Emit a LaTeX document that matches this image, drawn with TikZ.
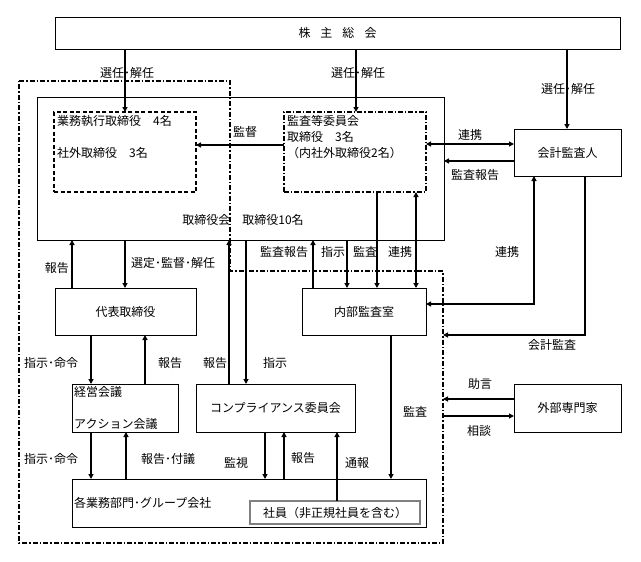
\documentclass[tikz,border=0pt]{standalone}
\usepackage{fontspec}
\setmainfont{Noto Sans CJK JP}
\usepackage{tikz}
\usetikzlibrary{arrows.meta}
\tikzset{
  orgBox/.style={draw, line width=0.8pt, inner sep=0pt, outer sep=0pt},
  execBox/.style={orgBox, line width=1.1pt, dash pattern=on 4pt off 2.5pt},
  auditBox/.style={orgBox, line width=1.1pt, dash pattern=on 5pt off 2pt on 1.2pt off 2pt},
  staffBox/.style={orgBox, draw=gray, line width=1.4pt},
  groupLine/.style={line width=1.3pt, dash pattern=on 5pt off 2pt on 1.5pt off 2pt},
  flowArrow/.style={line width=1.6pt, ->, >={Triangle[length=5pt,width=5pt]}},
  bothArrow/.style={flowArrow, <->},
  orgText/.style={inner sep=0pt}
}

\begin{document}
\begin{tikzpicture}[x=1pt, y=-1pt, font=\fontsize{12}{14}\selectfont]
  \useasboundingbox (0,0) rectangle (641,562);

  % boxes
  \node[orgBox, minimum width=565, minimum height=32] (gm) at (337.5,33) {株\hspace{10pt}主\hspace{10pt}総\hspace{10pt}会};
  \node[orgBox, minimum width=407, minimum height=143] (board) at (240.5,168.5) {};
  \node[execBox, minimum width=142, minimum height=80] (exec) at (125,152) {};
  \node[auditBox, minimum width=142, minimum height=80] (acom) at (355,152) {};
  \node[orgBox, minimum width=107, minimum height=47] (cpa) at (567.5,152.5) {会計監査人};
  \node[orgBox, minimum width=141, minimum height=47] (rep) at (125.5,311.5) {代表取締役};
  \node[orgBox, minimum width=124, minimum height=47] (ia) at (364,311.5) {内部監査室};
  \node[orgBox, minimum width=106, minimum height=48] (mtg) at (125,408) {};
  \node[orgBox, minimum width=159, minimum height=48] (comp) at (275.5,408) {コンプライアンス委員会};
  \node[orgBox, minimum width=107, minimum height=48] (ext) at (567.5,408) {外部専門家};
  \node[orgBox, minimum width=354, minimum height=48] (dept) at (249,503) {};
  \node[staffBox, minimum width=170, minimum height=23] (staff) at (335,512.5) {社員（非正規社員を含む）};

  % texts inside boxes
  \node[orgText, anchor=west] (execT1) at (57,121) {業務執行取締役　4名};
  \node[orgText, anchor=west] (execT2) at (57,153) {社外取締役　3名};
  \node[orgText, anchor=west] (acomT1) at (287,121) {監査等委員会};
  \node[orgText, anchor=west] (acomT2) at (287,137) {取締役　3名};
  \node[orgText, anchor=west] (acomT3) at (287,153) {（内社外取締役2名）};
  \node[orgText] (boardT) at (243,220) {取締役会　取締役10名};
  \node[orgText, anchor=west] (mtgT1) at (74,392) {経営会議};
  \node[orgText, anchor=west] (mtgT2) at (74,424) {アクション会議};
  \node[orgText, anchor=west] (deptT) at (74,503) {各業務部門･グループ会社};

  % group outline
  \coordinate (grpNW) at (19,81);
  \coordinate (grpN) at (230,81);
  \coordinate (grpM) at (230,271);
  \coordinate (grpE) at (443,271);
  \coordinate (grpSE) at (443,543);
  \coordinate (grpSW) at (19,543);
  \draw[groupLine] (grpNW) -- (grpN) -- (grpM) -- (grpE) -- (grpSE) -- (grpSW) -- cycle;

  % connectors
  \draw[flowArrow] (gm.south -| 125,0) -- (exec.north -| 125,0);
  \draw[flowArrow] (gm.south -| 356,0) -- (acom.north -| 356,0);
  \draw[flowArrow] (gm.south -| 567,0) -- (cpa.north -| 567,0);
  \draw[flowArrow] (acom.west |- 0,145) -- (exec.east |- 0,145);
  \draw[bothArrow] (acom.east |- 0,144) -- (cpa.west |- 0,144);
  \draw[flowArrow] (cpa.west |- 0,161) -- (board.east |- 0,161);
  \draw[flowArrow] (rep.north -| 72,0) -- (board.south -| 72,0);
  \draw[flowArrow] (board.south -| 125,0) -- (rep.north -| 125,0);
  \draw[flowArrow] (comp.north -| 229,0) -- (board.south -| 229,0);
  \draw[flowArrow] (board.south -| 246,0) -- (comp.north -| 246,0);
  \draw[flowArrow] (ia.north -| 313,0) -- (board.south -| 313,0);
  \draw[flowArrow] (board.south -| 347,0) -- (ia.north -| 347,0);
  \draw[flowArrow] (acom.south -| 377,0) -- (ia.north -| 377,0);
  \draw[bothArrow] (acom.south -| 416,0) -- (ia.north -| 416,0);
  \draw[bothArrow] (ia.east |- 0,304) -| (cpa.south -| 534,0);
  \draw[flowArrow] (cpa.south -| 585,0) |- (grpE |- 0,335);
  \draw[flowArrow] (ext.west |- 0,399) -- (grpE |- 0,399);
  \draw[flowArrow] (grpE |- 0,416) -- (ext.west |- 0,416);
  \draw[flowArrow] (rep.south -| 91,0) -- (mtg.north -| 91,0);
  \draw[flowArrow] (mtg.north -| 145,0) -- (rep.south -| 145,0);
  \draw[flowArrow] (mtg.south -| 91,0) -- (dept.north -| 91,0);
  \draw[flowArrow] (dept.north -| 126,0) -- (mtg.south -| 126,0);
  \draw[flowArrow] (comp.south -| 265,0) -- (dept.north -| 265,0);
  \draw[flowArrow] (dept.north -| 284,0) -- (comp.south -| 284,0);
  \draw[flowArrow] (staff.north -| 337,0) -- (comp.south -| 337,0);
  \draw[flowArrow] (ia.south -| 391,0) -- (dept.north -| 391,0);

  % connector labels
  \node[orgText] (lblElect1) at (127,73) {選任･解任};
  \node[orgText] (lblElect2) at (358,73) {選任･解任};
  \node[orgText] (lblElect3) at (568,89) {選任･解任};
  \node[orgText] (lblOversee) at (245,132) {監督};
  \node[orgText] (lblLink1) at (470,135) {連携};
  \node[orgText] (lblReport1) at (475,175) {監査報告};
  \node[orgText] (lblReport2) at (57,268) {報告};
  \node[orgText] (lblAppoint) at (173,263) {選定･監督･解任};
  \node[orgText] (lblReport3) at (284,252) {監査報告};
  \node[orgText] (lblOrder1) at (333,252) {指示};
  \node[orgText] (lblAudit1) at (365,252) {監査};
  \node[orgText] (lblLink2) at (400,252) {連携};
  \node[orgText] (lblLink3) at (507,252) {連携};
  \node[orgText] (lblAccAudit) at (552,345) {会計監査};
  \node[orgText] (lblAdvice) at (480,384) {助言};
  \node[orgText] (lblConsult) at (479,431) {相談};
  \node[orgText] (lblCommand1) at (51,363) {指示･命令};
  \node[orgText] (lblReport4) at (170,363) {報告};
  \node[orgText] (lblReport5) at (215,363) {報告};
  \node[orgText] (lblOrder2) at (275,363) {指示};
  \node[orgText] (lblAudit2) at (415,412) {監査};
  \node[orgText] (lblCommand2) at (51,459) {指示･命令};
  \node[orgText] (lblReport6) at (168,459) {報告･付議};
  \node[orgText] (lblMonitor) at (236,463) {監視};
  \node[orgText] (lblReport7) at (303,458) {報告};
  \node[orgText] (lblWhistle) at (357,463) {通報};
\end{tikzpicture}
\end{document}
